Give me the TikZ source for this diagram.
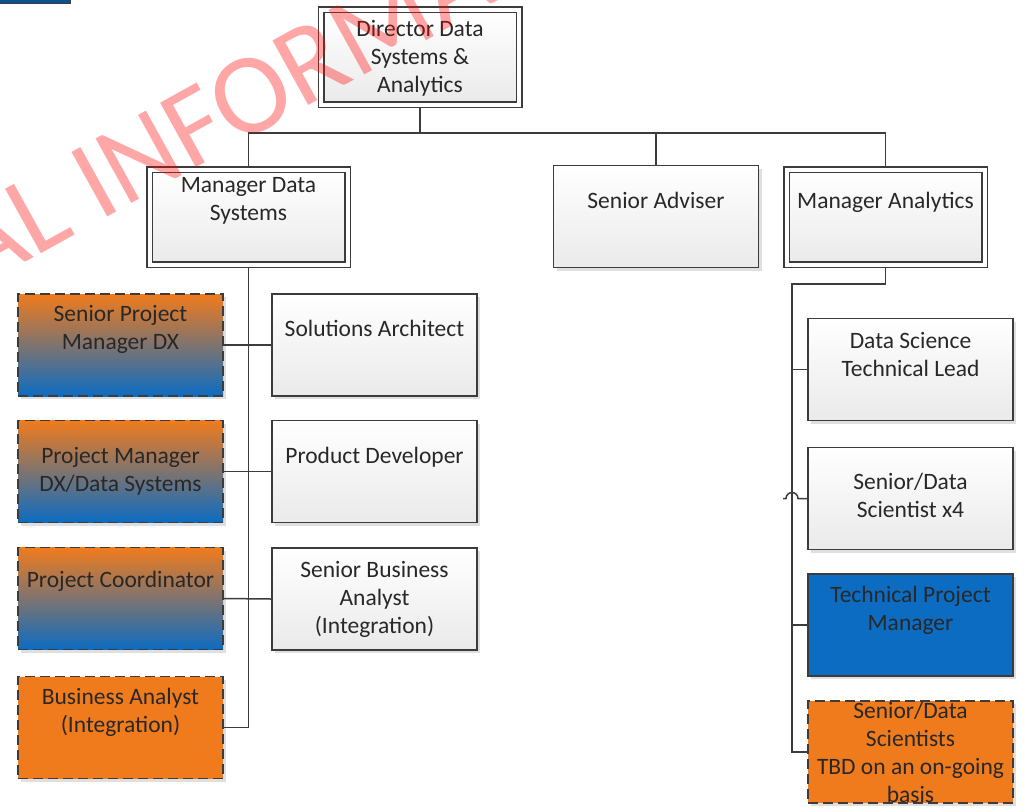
\documentclass[tikz,border=0pt]{standalone}
\usepackage{fontspec}
\setmainfont{Carlito}
\newfontfamily\markfont{Carlito}
\usetikzlibrary{shadows}
\definecolor{linec}{RGB}{60,60,60}
\definecolor{orgc}{RGB}{240,123,29}
\definecolor{bluec}{RGB}{12,108,194}
\definecolor{greyc}{RGB}{234,234,234}
\definecolor{txtc}{RGB}{40,40,40}

\begin{document}
\begin{tikzpicture}[x=1pt,y=-1pt]
\tikzstyle{every node}+=[inner sep=0pt]
\tikzstyle{box}=[rectangle, minimum width=205pt, minimum height=102pt, draw=linec, line width=1.5pt, drop shadow={shadow xshift=3pt,shadow yshift=-3pt,opacity=0.25}]
\tikzstyle{post}=[box, top color=white, bottom color=greyc]
\tikzstyle{lead}=[post, minimum width=198pt, minimum height=95pt, double=white, double distance=4pt, outer sep=3.5pt]
\tikzstyle{vacant}=[box, dash pattern=on 10pt off 5pt, top color=orgc, bottom color=bluec]
\tikzstyle{newpost}=[box, dash pattern=on 10pt off 5pt, fill=orgc]
\tikzstyle{tpmbox}=[box, fill=bluec]
\tikzstyle{role}=[align=center, font=\fontsize{23.5}{28}\selectfont, text=txtc]
\tikzstyle{wire}=[draw=linec, line width=1.5pt]
\useasboundingbox (0,0) rectangle (1026,807);
\fill[bluec!75!black, draw=linec] (-3,-6) rectangle (70,3);
\node[lead] (dir) at (420,57) {};
\node[lead] (mds) at (248.5,217) {};
\node[post] (adv) at (656,216.5) {};
\node[lead] (man) at (885.5,217) {};
\node[vacant] (spm) at (120.5,345) {};
\node[vacant] (pm) at (120.5,471.5) {};
\node[vacant] (pc) at (120.5,598.5) {};
\node[newpost] (ba) at (120.5,727.5) {};
\node[post] (sol) at (374.5,345) {};
\node[post] (dev) at (374.5,471.5) {};
\node[post] (sba) at (374.5,599) {};
\node[post] (dst) at (910.5,369.5) {};
\node[post] (sds) at (910.5,498.5) {};
\node[tpmbox] (tpm) at (910.5,625) {};
\node[newpost] (tbd) at (910.5,752) {};
\node[role] (dir-t) at ([yshift=-1pt]dir) {Director Data\\Systems \&\\Analytics};
\node[role] (mds-t) at ([yshift=-35pt]mds.north) {Manager Data\\Systems};
\node[role] (adv-t) at ([yshift=-36pt]adv.north) {Senior Adviser};
\node[role] (man-t) at ([yshift=-36pt]man.north) {Manager Analytics};
\node[role] (spm-t) at ([yshift=-36pt]spm.north) {Senior Project\\Manager DX};
\node[role] (pm-t) at (pm) {Project Manager\\DX/Data Systems};
\node[role] (pc-t) at ([yshift=-35pt]pc.north) {Project Coordinator};
\node[role] (ba-t) at ([yshift=-37pt]ba.north) {Business Analyst\\(Integration)};
\node[role] (sol-t) at ([yshift=-35pt]sol.north) {Solutions Architect};
\node[role] (dev-t) at ([yshift=-37pt]dev.north) {Product Developer};
\node[role] (sba-t) at (sba) {Senior Business\\Analyst\\(Integration)};
\node[role] (dst-t) at ([yshift=-37pt]dst.north) {Data Science\\Technical Lead};
\node[role] (sds-t) at ([yshift=-49pt]sds.north) {Senior/Data\\Scientist x4};
\node[role] (tpm-t) at ([yshift=-37pt]tpm.north) {Technical Project\\Manager};
\node[role] (tbd-t) at (tbd) {Senior/Data\\Scientists\\TBD on an on-going\\basis};
\coordinate (hub) at (420,133);
\coordinate (rtop) at (792,284);
\draw[wire] (dir.south) -- (hub);
\draw[wire] (mds.north) |- (hub) -| (man.north);
\draw[wire] (adv.north) -- (adv.north |- hub);
\draw[wire] (mds.south) |- (ba.east);
\draw[wire] (spm.east) -- (sol.west);
\draw[wire] (pm.east) -- (dev.west);
\draw[wire] (pc.east) -- (sba.west);
\draw[wire] (man.south) |- (rtop) |- (tbd.west);
\draw[wire] (dst.west) -- (dst.west -| rtop);
\draw[wire] (tpm.west) -- (tpm.west -| rtop);
\draw[wire] (sds.west) -- ([xshift=6pt]sds.west -| rtop) arc[start angle=0, end angle=180, radius=6pt] -- ++(-3,0);
\begin{scope}
\clip (0,0) rectangle (1026,807);
\node[font=\markfont\fontsize{115}{115}\selectfont, text=red, opacity=0.35, rotate=29, anchor=base west] (mark) at (-24,290) {AL INFORMA};
\end{scope}
\end{tikzpicture}
\end{document}
